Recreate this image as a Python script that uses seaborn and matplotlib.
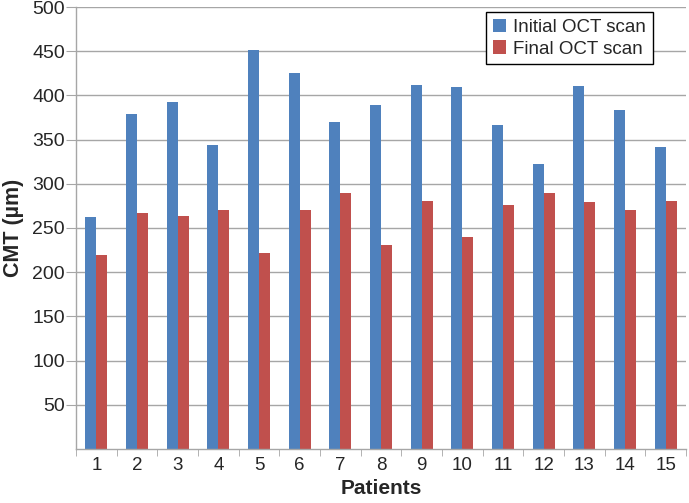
import matplotlib
matplotlib.use("Agg")
import matplotlib.pyplot as plt
import seaborn as sns
import pandas as pd
from matplotlib.ticker import FixedLocator

patients = [str(i) for i in range(1, 16)]
initial = [263, 379, 392, 344, 451, 425, 370, 389, 412, 410, 367, 322, 411, 383, 342]
final = [219, 267, 264, 270, 222, 270, 290, 231, 280, 240, 276, 290, 279, 270, 280]
series = ["Initial OCT scan", "Final OCT scan"]
yticks = [50, 100, 150, 200, 250, 300, 350, 400, 450, 500]

df = pd.DataFrame({
    "Patient": patients * 2,
    "CMT": initial + final,
    "Scan": [series[0]] * len(patients) + [series[1]] * len(patients),
})

sns.set_style("white")
plt.rcParams['font.family'] = ['Liberation Sans', 'DejaVu Sans']

fig = plt.figure(figsize=(6.89, 5.03), dpi=100)
ax = fig.add_axes([76/689, 1-449/503, 610/689, 442/503])

sns.barplot(data=df, x="Patient", y="CMT", hue="Scan", order=patients, hue_order=series,
            palette=["#4F81BD", "#C0504D"], width=0.54, gap=0, saturation=1,
            linewidth=0, ax=ax)

ax.set_ylim(0, 500)
ax.set_xlim(-0.5, len(patients) - 0.5)
ax.set_yticks(yticks)
ax.yaxis.grid(True, color="#A6A6A6", linewidth=1)
ax.set_axisbelow(True)
for s in ["top", "right"]:
    ax.spines[s].set_visible(False)
for s in ["left", "bottom"]:
    ax.spines[s].set_color("#A6A6A6")
    ax.spines[s].set_linewidth(1)

ax.tick_params(axis="y", direction="out", length=7, color="#A6A6A6", labelsize=14, left=True, pad=1)
ax.tick_params(axis="x", which="major", length=0, labelsize=13.5, pad=6)
ax.xaxis.set_minor_locator(FixedLocator([i - 0.5 for i in range(len(patients) + 1)]))
ax.tick_params(axis="x", which="minor", direction="out", length=5, color="#A6A6A6", bottom=True)

ax.set_ylabel("CMT (µm)", fontsize=15.5, fontweight="bold", labelpad=6)
ax.set_xlabel("Patients", fontsize=15, fontweight="bold", labelpad=3)

leg = ax.legend(loc="upper left", bbox_to_anchor=(486/689, 1-12/503), bbox_transform=fig.transFigure,
                frameon=True, fancybox=False, edgecolor="black", fontsize=13.5,
                handlelength=0.7, handleheight=0.7, handletextpad=0.4, borderpad=0.35,
                labelspacing=0.25, framealpha=1, borderaxespad=0)
leg.get_frame().set_linewidth(1)

fig.savefig("out.png", dpi=100)
